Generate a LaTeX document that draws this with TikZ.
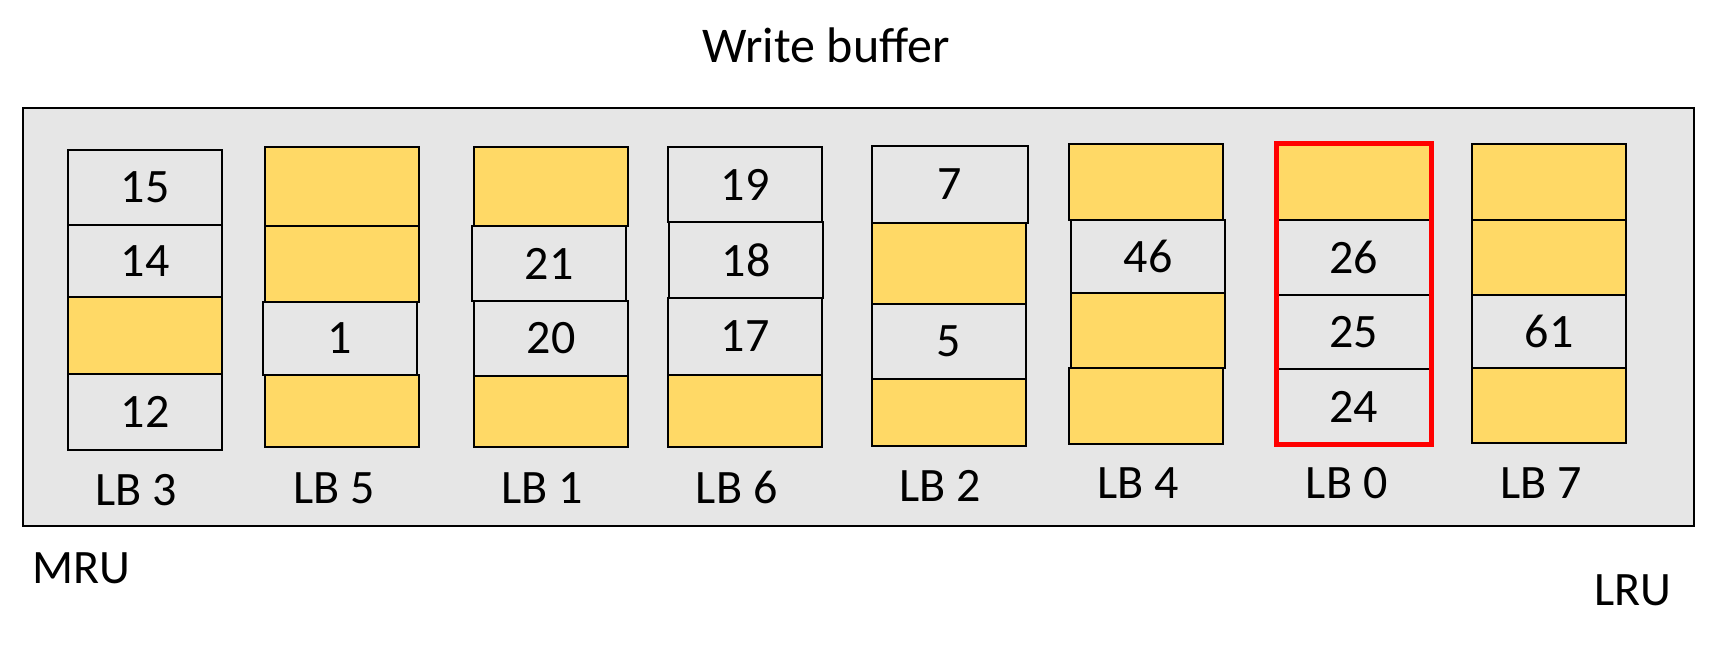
\documentclass[tikz,border=0pt]{standalone}
\usepackage{fontspec}
\setmainfont{Carlito}
\definecolor{bggray}{HTML}{E6E6E6}
\definecolor{gold}{HTML}{FFD966}
\definecolor{hotred}{HTML}{FF0000}
\tikzset{
  cellbox/.style={draw=black, line width=2.3pt, inner sep=0pt, outer sep=0pt,
    font=\fontsize{48}{56}\selectfont},
  txt/.style={inner sep=0pt, outer sep=0pt, anchor=base,
    font=\fontsize{48}{56}\selectfont},
  outerbox/.style={draw=black, line width=2.3pt, fill=bggray},
  redframe/.style={draw=hotred, line width=5pt, inner sep=0pt}
}
\newcommand\mkcell[7]{%
  \node[cellbox, fill=#6, minimum width={(#3-#2)*1pt}, minimum height={(#5-#4)*1pt}]
    (#1) at ({(#2+#3)/2},{(#4+#5)/2}) {#7};}
\begin{document}
\begin{tikzpicture}[x=1pt,y=-1pt]
\useasboundingbox (0,0) rectangle (1721,649);
\fill[white] (0,0) rectangle (1721,649);
\node[outerbox, minimum width=1671pt, minimum height=418pt, inner sep=0pt] (buf) at (858.5,317) {};
\node[txt, font=\fontsize{50}{58}\selectfont] (title) at (826,62.7) {Write buffer};
\node[txt] (mru) at (81.5,583.3) {MRU};
\node[txt] (lru) at (1633,605) {LRU};
% LB 3
\mkcell{a1}{68}{222}{150}{225}{bggray}{15}
\mkcell{a2}{68}{222}{225}{297}{bggray}{14}
\mkcell{a3}{68}{222}{297}{374}{gold}{}
\mkcell{a4}{68}{222}{374}{450}{bggray}{12}
\node[txt] (la) at (136,505) {LB 3};
% LB 5
\mkcell{b1}{265}{419}{147}{226}{gold}{}
\mkcell{b2}{265}{419}{226}{302}{gold}{}
\mkcell{b4}{265}{419}{375}{447}{gold}{}
\mkcell{b3}{263}{417}{302}{375}{bggray}{1}
\node[txt] (lb) at (334,503.3) {LB 5};
% LB 1
\mkcell{c1}{474}{628}{147}{226}{gold}{}
\mkcell{c3}{474}{628}{301}{376}{bggray}{20}
\mkcell{c4}{474}{628}{376}{447}{gold}{}
\mkcell{c2}{472}{626}{226}{301}{bggray}{21}
\node[txt] (lc) at (542.5,503.3) {LB 1};
% LB 6
\mkcell{d1}{668}{822}{147}{222}{bggray}{19}
\mkcell{d3}{668}{822}{298}{375}{bggray}{17}
\mkcell{d4}{668}{822}{375}{447}{gold}{}
\mkcell{d2}{669}{823}{222}{298}{bggray}{18}
\node[txt] (ld) at (736.7,503.3) {LB 6};
% LB 2
\mkcell{e2}{872}{1026}{223}{304}{gold}{}
\mkcell{e3}{872}{1026}{304}{379}{bggray}{5}
\mkcell{e4}{872}{1026}{379}{446}{gold}{}
\mkcell{e1}{872}{1028}{146}{223}{bggray}{7}
\node[txt] (le) at (940,501.7) {LB 2};
% LB 4
\mkcell{f1}{1069}{1223}{144}{220}{gold}{}
\mkcell{f4}{1069}{1223}{368}{444}{gold}{}
\mkcell{f2}{1071}{1225}{220}{293}{bggray}{46}
\mkcell{f3}{1071}{1225}{293}{368}{gold}{}
\node[txt] (lf) at (1138.3,498.3) {LB 4};
% LB 0
\mkcell{g1}{1275}{1432}{142}{220}{gold}{}
\mkcell{g2}{1275}{1432}{220}{295}{bggray}{26}
\mkcell{g3}{1275}{1432}{295}{369}{bggray}{25}
\mkcell{g4}{1275}{1432}{369}{445}{bggray}{24}
\node[redframe, minimum width=155pt, minimum height=301pt] (gframe) at (1353.5,293.5) {};
\node[txt] (lg) at (1346.7,498) {LB 0};
% LB 7
\mkcell{h1}{1472}{1626}{144}{220}{gold}{}
\mkcell{h2}{1472}{1626}{220}{295}{gold}{}
\mkcell{h3}{1472}{1626}{295}{368}{bggray}{61}
\mkcell{h4}{1472}{1626}{368}{443}{gold}{}
\node[txt] (lh) at (1540.8,498) {LB 7};
\end{tikzpicture}
\end{document}
